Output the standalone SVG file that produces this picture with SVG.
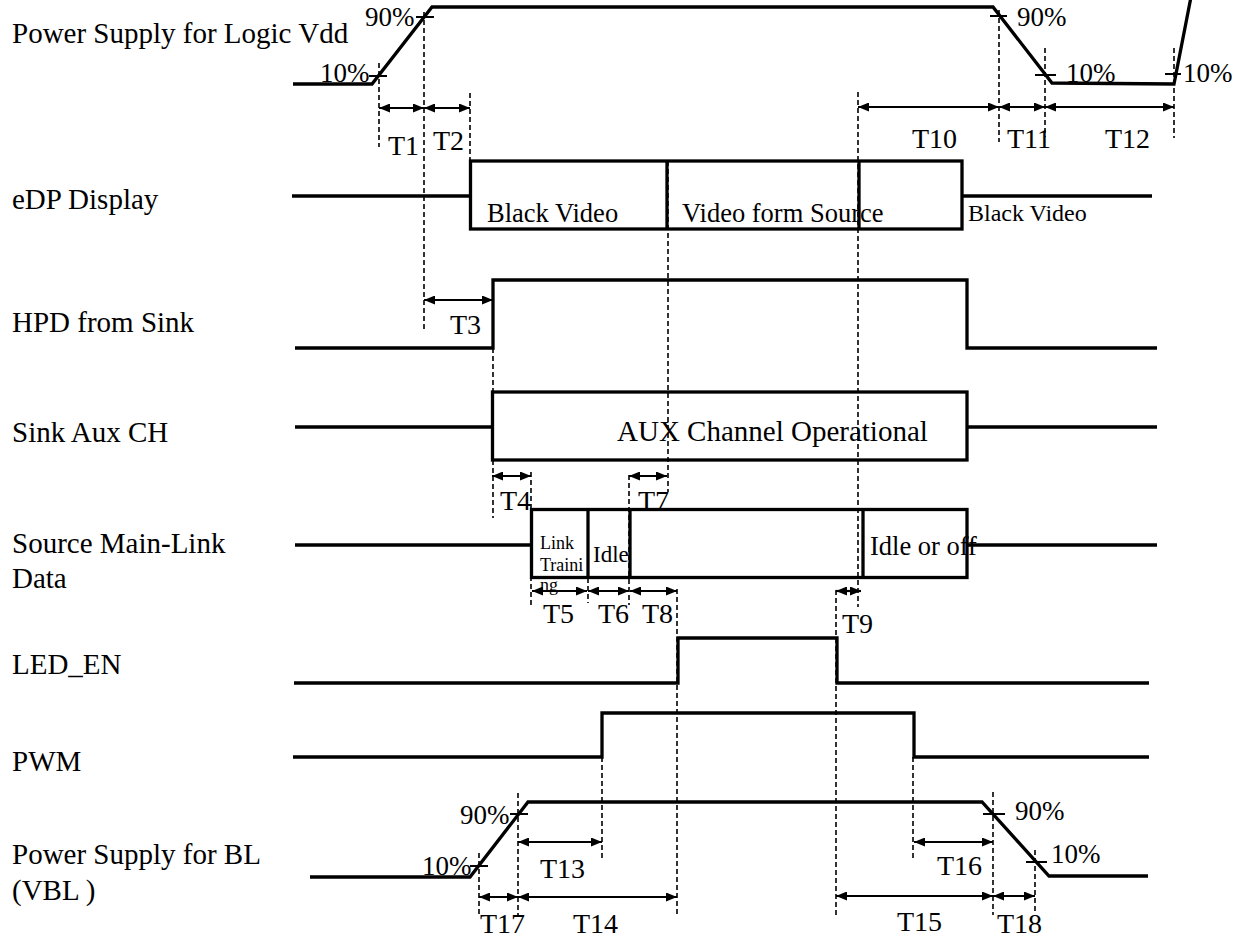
<svg xmlns="http://www.w3.org/2000/svg" width="1251" height="939" viewBox="0 0 1251 939">
<defs>
<style>
.sig{fill:none;stroke:#000;stroke-width:3.3;stroke-linejoin:miter;stroke-linecap:butt}
.box{fill:none;stroke:#000;stroke-width:3.3}
.tick{stroke:#000;stroke-width:2}
.dash{stroke:#000;stroke-width:1.6;stroke-dasharray:5 3;fill:none}
.arr{stroke:#000;stroke-width:2.2;marker-start:url(#ah);marker-end:url(#ah)}
text{font-family:"Liberation Serif","Times New Roman",serif;fill:#000}
.lbl{font-size:29px}
.tl{font-size:28px}
.pc{font-size:27px}
.bx{font-size:26.5px}
</style>
<marker id="ah" markerUnits="userSpaceOnUse" viewBox="0 0 11 9" refX="11" refY="4.5" markerWidth="11" markerHeight="9" orient="auto-start-reverse">
<path d="M0,0 L11,4.5 L0,9 z" fill="#000"/>
</marker>
</defs>
<rect width="1251" height="939" fill="#fff"/>

<g id="labels">
<text class="lbl" x="12" y="43">Power Supply for Logic Vdd</text>
<text class="lbl" x="12" y="209">eDP Display</text>
<text class="lbl" x="12" y="332">HPD from Sink</text>
<text class="lbl" x="12" y="442">Sink Aux CH</text>
<text class="lbl" x="12" y="553">Source Main-Link</text>
<text class="lbl" x="12" y="588">Data</text>
<text class="lbl" x="12" y="674">LED_EN</text>
<text class="lbl" x="12" y="771">PWM</text>
<text class="lbl" x="12" y="864">Power Supply for BL</text>
<text class="lbl" x="12" y="900">(VBL )</text>
</g>

<g id="vdd">
<polyline class="sig" points="293,84 372,84 432,7 993,7 1052,83 1174,84 1191,-3"/>
<line class="tick" x1="369" y1="76" x2="387" y2="76"/>
<line class="tick" x1="416" y1="17" x2="434" y2="17"/>
<line class="tick" x1="990" y1="16" x2="1007" y2="16"/>
<line class="tick" x1="1035" y1="75" x2="1056" y2="75"/>
<line class="tick" x1="1165" y1="74" x2="1181" y2="74"/>
<text class="pc" x="320" y="82">10%</text>
<text class="pc" x="365" y="26">90%</text>
<text class="pc" x="1017" y="26">90%</text>
<text class="pc" x="1066" y="82">10%</text>
<text class="pc" x="1183" y="82">10%</text>
</g>

<g id="edp">
<polyline class="sig" points="292,196 470,196"/>
<rect class="box" x="470.5" y="161" width="491.5" height="68"/>
<line class="sig" x1="667" y1="161" x2="667" y2="229"/>
<line class="sig" x1="859" y1="161" x2="859" y2="229"/>
<polyline class="sig" points="962,196 1152,196"/>
<text class="bx" x="487" y="222">Black Video</text>
<text class="bx" x="682" y="222">Video form Source</text>
<text x="968" y="221" style="font-size:24px">Black Video</text>
</g>

<g id="hpd">
<polyline class="sig" points="295,348 493,348 493,280 967,280 967,348 1157,348"/>
</g>

<g id="aux">
<polyline class="sig" points="295,427 492,427"/>
<rect class="box" x="492.5" y="392" width="474.5" height="68"/>
<polyline class="sig" points="967,427 1157,427"/>
<text x="617" y="441" style="font-size:29px">AUX Channel Operational</text>
</g>

<g id="mainlink">
<polyline class="sig" points="295,545 531,545"/>
<rect class="box" x="531.5" y="509.5" width="435.5" height="68"/>
<line class="sig" x1="588" y1="509.5" x2="588" y2="577.5"/>
<line class="sig" x1="630" y1="509.5" x2="630" y2="577.5"/>
<line class="sig" x1="863" y1="509.5" x2="863" y2="577.5"/>
<polyline class="sig" points="967,545 1157,545"/>
<text x="540" y="549" style="font-size:18px">Link</text>
<text x="540" y="571" style="font-size:18px">Traini</text>
<text x="540" y="591" style="font-size:18px">ng</text>
<text x="593" y="562" style="font-size:23px">Idle</text>
<text x="870" y="555" style="font-size:26.5px">Idle or off</text>
</g>

<g id="led_en">
<polyline class="sig" points="294,683 678,683 678,638 837,638 837,683 1149,683"/>
</g>

<g id="pwm">
<polyline class="sig" points="293,757 602,757 602,713 914,713 914,757 1149,757"/>
</g>

<g id="vbl">
<polyline class="sig" points="310,877 470,877 528,802 982,802 1049,876 1148,876"/>
<line class="tick" x1="470" y1="866" x2="488" y2="866"/>
<line class="tick" x1="510" y1="814" x2="528" y2="814"/>
<line class="tick" x1="983" y1="814" x2="1005" y2="814"/>
<line class="tick" x1="1026" y1="862" x2="1047" y2="862"/>
<text class="pc" x="460" y="824">90%</text>
<text class="pc" x="422" y="875">10%</text>
<text class="pc" x="1015" y="820">90%</text>
<text class="pc" x="1051" y="863">10%</text>
</g>

<g id="connectors">
<line class="dash" x1="379" y1="63" x2="379" y2="147"/>
<line class="dash" x1="424" y1="12" x2="424" y2="330"/>
<line class="dash" x1="470" y1="93" x2="470" y2="229"/>
<line class="dash" x1="493" y1="348" x2="493" y2="518"/>
<line class="dash" x1="531" y1="472" x2="531" y2="607"/>
<line class="dash" x1="588" y1="578" x2="588" y2="603"/>
<line class="dash" x1="629" y1="475" x2="629" y2="605"/>
<line class="dash" x1="668" y1="161" x2="668" y2="492"/>
<line class="dash" x1="677" y1="589" x2="677" y2="917"/>
<line class="dash" x1="836" y1="590" x2="836" y2="917"/>
<line class="dash" x1="858" y1="92" x2="858" y2="607"/>
<line class="dash" x1="999" y1="10" x2="999" y2="142"/>
<line class="dash" x1="1045" y1="48" x2="1045" y2="137"/>
<line class="dash" x1="1174" y1="48" x2="1174" y2="138"/>
<line class="dash" x1="602" y1="757" x2="602" y2="858"/>
<line class="dash" x1="913" y1="757" x2="913" y2="858"/>
<line class="dash" x1="479" y1="853" x2="479" y2="915"/>
<line class="dash" x1="518" y1="793" x2="518" y2="915"/>
<line class="dash" x1="993" y1="792" x2="993" y2="915"/>
<line class="dash" x1="1035" y1="850" x2="1035" y2="913"/>

<line class="arr" x1="379" y1="108" x2="424" y2="108"/>
<line class="arr" x1="424" y1="108" x2="470" y2="108"/>
<line class="arr" x1="858" y1="107" x2="999" y2="107"/>
<line class="arr" x1="999" y1="107" x2="1045" y2="107"/>
<line class="arr" x1="1045" y1="107" x2="1174" y2="107"/>
<line class="arr" x1="424" y1="300" x2="493" y2="300"/>
<line class="arr" x1="492" y1="476" x2="531" y2="476"/>
<line class="arr" x1="629" y1="476" x2="667" y2="476"/>
<line class="arr" x1="532" y1="591" x2="587" y2="591"/>
<line class="arr" x1="588" y1="591" x2="629" y2="591"/>
<line class="arr" x1="630" y1="591" x2="677" y2="591"/>
<line class="arr" x1="836" y1="591" x2="861" y2="591"/>
<line class="arr" x1="518" y1="842" x2="602" y2="842"/>
<line class="arr" x1="914" y1="842" x2="993" y2="842"/>
<line class="arr" x1="479" y1="897" x2="518" y2="897"/>
<line class="arr" x1="518" y1="897" x2="677" y2="897"/>
<line class="arr" x1="836" y1="896" x2="993" y2="896"/>
<line class="arr" x1="993" y1="896" x2="1035" y2="896"/>

<text class="tl" x="388" y="155">T1</text>
<text class="tl" x="433" y="150">T2</text>
<text class="tl" x="912" y="148">T10</text>
<text class="tl" x="1007" y="148">T11</text>
<text class="tl" x="1105" y="148">T12</text>
<text class="tl" x="450" y="334">T3</text>
<text class="tl" x="500" y="510">T4</text>
<text class="tl" x="638" y="510">T7</text>
<text class="tl" x="543" y="623">T5</text>
<text class="tl" x="598" y="623">T6</text>
<text class="tl" x="642" y="623">T8</text>
<text class="tl" x="842" y="633">T9</text>
<text class="tl" x="540" y="878">T13</text>
<text class="tl" x="937" y="875">T16</text>
<text class="tl" x="480" y="933">T17</text>
<text class="tl" x="573" y="933">T14</text>
<text class="tl" x="897" y="931">T15</text>
<text class="tl" x="997" y="933">T18</text>
</g>
</svg>
